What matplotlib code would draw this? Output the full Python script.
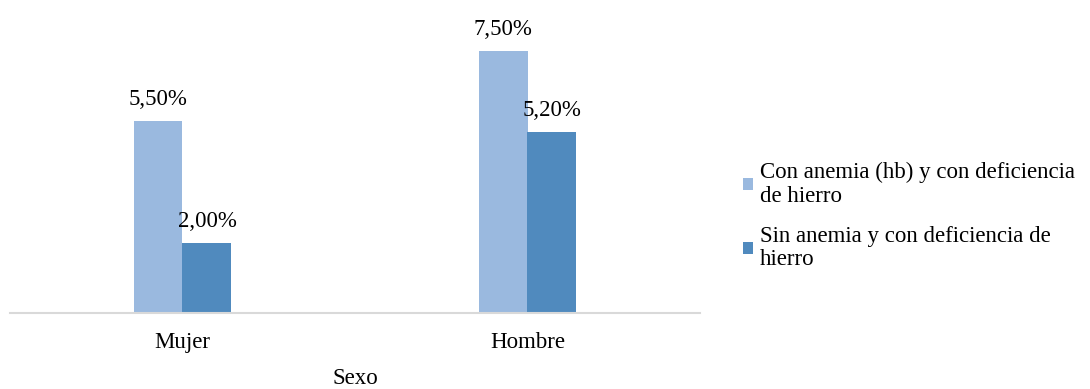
import numpy as np
import matplotlib
matplotlib.use("Agg")
import matplotlib.pyplot as plt

# data
categories = ['Mujer', 'Hombre']
con_anemia = [5.5, 7.5]
sin_anemia = [2.0, 5.2]
series_names = ['Con anemia (hb) y con deficiencia\nde hierro',
                'Sin anemia y con deficiencia de\nhierro']

plt.rcParams['font.family'] = ['Liberation Serif', 'DejaVu Serif']
fs = 16.5

fig = plt.figure(figsize=(10.9, 3.89), dpi=100)
ax = fig.add_axes([10 / 1090, 76 / 389, 690 / 1090, 279 / 389])

x = np.arange(len(categories))
w = 0.142
colors = ['#9ab9df', '#508abe']

bars1 = ax.bar(x - w / 2, con_anemia, w, color=colors[0], label=series_names[0])
bars2 = ax.bar(x + w / 2, sin_anemia, w, color=colors[1], label=series_names[1])

# value labels in spanish format
for bars in (bars1, bars2):
    for b in bars:
        txt = f'{b.get_height():.2f}%'.replace('.', ',')
        ax.annotate(txt, (b.get_x() + b.get_width() / 2, b.get_height()),
                    xytext=(0, 8), textcoords='offset points',
                    ha='center', va='bottom', fontsize=fs)

ax.set_xlim(-0.5, 1.5)
ax.set_ylim(0, 8)
ax.set_xticks(x)
ax.set_xticklabels(categories, fontsize=fs)
ax.tick_params(axis='x', length=0, pad=13.5)
ax.set_yticks([])
ax.set_xlabel('Sexo', fontsize=fs, labelpad=11)

for s in ['top', 'right', 'left']:
    ax.spines[s].set_visible(False)
ax.spines['bottom'].set_color('#d9d9d9')
ax.spines['bottom'].set_linewidth(1.5)

leg = fig.legend(loc='upper left', bbox_to_anchor=(743 / 1090, 1 - 162 / 389),
                 frameon=False, fontsize=fs, handlelength=0.45, handleheight=0.45,
                 handletextpad=0.3, labelspacing=0.85, borderaxespad=0,
                 borderpad=0)
for t in leg.get_texts():
    t.set_linespacing(1.15)

plt.savefig('out.png', dpi=100)
plt.close()
